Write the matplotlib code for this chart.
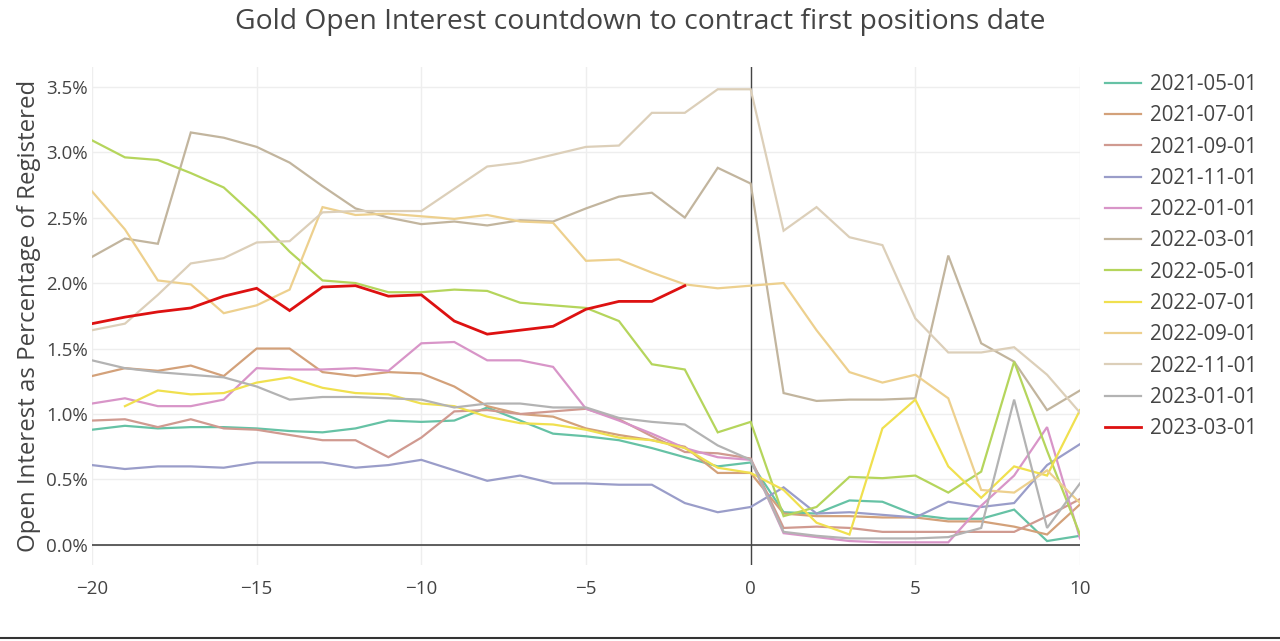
import numpy as np
import matplotlib
matplotlib.use("Agg")
from matplotlib import pyplot as plt
from matplotlib.lines import Line2D

nan = np.nan

# days relative to first positions date
days = list(range(-20, 11))

labels = ["2021-05-01", "2021-07-01", "2021-09-01", "2021-11-01", "2022-01-01", "2022-03-01",
          "2022-05-01", "2022-07-01", "2022-09-01", "2022-11-01", "2023-01-01", "2023-03-01"]

colors = ["#66c2a5", "#d3a17a", "#d09a90", "#9a9dc9", "#d895c8", "#c2b59e",
          "#b5d55c", "#f0e04f", "#edd08e", "#dccfb9", "#b3b3b3", "#dd1111"]

# open interest as % of registered, one list per contract (-20 .. 10)
oi_2021_05 = [0.88, 0.91, 0.89, 0.90, 0.90, 0.89, 0.87, 0.86, 0.89, 0.95, 0.94, 0.95, 1.05, 0.95, 0.85,
              0.83, 0.80, 0.74, 0.67, 0.60, 0.63,
              0.25, 0.24, 0.34, 0.33, 0.23, 0.20, 0.20, 0.27, 0.03, 0.07]
oi_2021_07 = [1.29, 1.35, 1.33, 1.37, 1.29, 1.50, 1.50, 1.32, 1.29, 1.32, 1.31, 1.21, 1.06, 1.00, 0.98,
              0.89, 0.84, 0.80, 0.75, 0.55, 0.55,
              0.24, 0.22, 0.22, 0.21, 0.21, 0.18, 0.18, 0.14, 0.08, 0.31]
oi_2021_09 = [0.95, 0.96, 0.90, 0.96, 0.89, 0.88, 0.84, 0.80, 0.80, 0.67, 0.82, 1.02, 1.03, 1.00, 1.02,
              1.04, 0.96, 0.83, 0.71, 0.70, 0.66,
              0.13, 0.14, 0.13, 0.10, 0.10, 0.10, 0.10, 0.10, 0.22, 0.35]
oi_2021_11 = [0.61, 0.58, 0.60, 0.60, 0.59, 0.63, 0.63, 0.63, 0.59, 0.61, 0.65, 0.57, 0.49, 0.53, 0.47,
              0.47, 0.46, 0.46, 0.32, 0.25, 0.29,
              0.44, 0.24, 0.25, 0.23, 0.21, 0.33, 0.29, 0.32, 0.61, 0.77]
oi_2022_01 = [1.08, 1.12, 1.06, 1.06, 1.11, 1.35, 1.34, 1.34, 1.35, 1.33, 1.54, 1.55, 1.41, 1.41, 1.36,
              1.04, 0.95, 0.85, 0.74, 0.67, 0.65,
              0.09, 0.06, 0.03, 0.02, 0.02, 0.02, 0.30, 0.53, 0.90, 0.05]
oi_2022_03 = [2.20, 2.34, 2.30, 3.15, 3.11, 3.04, 2.92, 2.74, 2.57, 2.50, 2.45, 2.47, 2.44, 2.48, 2.47,
              2.57, 2.66, 2.69, 2.50, 2.88, 2.76,
              1.16, 1.10, 1.11, 1.11, 1.12, 2.21, 1.54, 1.40, 1.03, 1.18]
oi_2022_05 = [3.09, 2.96, 2.94, 2.84, 2.73, 2.50, 2.24, 2.02, 2.00, 1.93, 1.93, 1.95, 1.94, 1.85, 1.83,
              1.81, 1.71, 1.38, 1.34, 0.86, 0.94,
              0.22, 0.29, 0.52, 0.51, 0.53, 0.40, 0.56, 1.40, 0.72, 0.08]
oi_2022_07 = [nan, 1.06, 1.18, 1.15, 1.16, 1.24, 1.28, 1.20, 1.16, 1.15, 1.08, 1.06, 0.98, 0.93, 0.92,
              0.88, 0.82, 0.80, 0.74, 0.59, 0.55,
              0.42, 0.17, 0.08, 0.89, 1.11, 0.60, 0.36, 0.60, 0.53, 1.03]
oi_2022_09 = [2.70, 2.41, 2.02, 1.99, 1.77, 1.83, 1.95, 2.58, 2.52, 2.53, 2.51, 2.49, 2.52, 2.47, 2.46,
              2.17, 2.18, 2.08, 1.99, 1.96, 1.98,
              2.00, 1.64, 1.32, 1.24, 1.30, 1.12, 0.42, 0.40, 0.57, 0.32]
oi_2022_11 = [1.64, 1.69, 1.91, 2.15, 2.19, 2.31, 2.32, 2.54, 2.55, 2.55, 2.55, 2.72, 2.89, 2.92, 2.98,
              3.04, 3.05, 3.30, 3.30, 3.48, 3.48,
              2.40, 2.58, 2.35, 2.29, 1.73, 1.47, 1.47, 1.51, 1.30, 1.01]
oi_2023_01 = [1.41, 1.35, 1.32, 1.30, 1.28, 1.21, 1.11, 1.13, 1.13, 1.12, 1.11, 1.05, 1.08, 1.08, 1.05,
              1.05, 0.97, 0.94, 0.92, 0.76, 0.65,
              0.10, 0.07, 0.05, 0.05, 0.05, 0.06, 0.13, 1.11, 0.13, 0.47]
oi_2023_03 = [1.69, 1.74, 1.78, 1.81, 1.90, 1.96, 1.79, 1.97, 1.98, 1.90, 1.91, 1.71, 1.61, 1.64, 1.67,
              1.80, 1.86, 1.86, 1.98, nan, nan,
              nan, nan, nan, nan, nan, nan, nan, nan, nan, nan]

series = [oi_2021_05, oi_2021_07, oi_2021_09, oi_2021_11, oi_2022_01, oi_2022_03,
          oi_2022_05, oi_2022_07, oi_2022_09, oi_2022_11, oi_2023_01, oi_2023_03]

plt.rcParams['font.family'] = ['Open Sans', 'DejaVu Sans']

fig = plt.figure(figsize=(12.8, 6.41), dpi=100)
ax = fig.add_axes([92/1280, 1 - 565/641, (1080-92)/1280, (565-67)/641])

for vals, lab, col in zip(series, labels, colors):
    lw = 2.0 if lab == "2023-03-01" else 1.6
    ax.plot(days, vals, color=col, lw=lw, label=lab, solid_joinstyle='miter')

ax.set_xlim(-20, 10)
ax.set_ylim(-0.153, 3.65)
ax.set_xticks([-20, -15, -10, -5, 0, 5, 10])
ax.set_xticklabels(["\u221220", "\u221215", "\u221210", "\u22125", "0", "5", "10"])
ax.set_yticks([0, 0.5, 1, 1.5, 2, 2.5, 3, 3.5])
ax.set_yticklabels(["0.0%", "0.5%", "1.0%", "1.5%", "2.0%", "2.5%", "3.0%", "3.5%"])
ax.grid(True, color="#eeeeee", lw=1)
ax.set_axisbelow(True)
ax.axhline(0, color="#444444", lw=1.2, zorder=1.5)
ax.axvline(0, color="#444444", lw=1.0, zorder=1.5)
for s in ax.spines.values():
    s.set_visible(False)
ax.tick_params(length=0, labelsize=13.5, colors="#444444")
ax.tick_params(axis='y', pad=3)
ax.tick_params(axis='x', pad=11)

ax.set_ylabel("Open Interest as Percentage of Registered", fontsize=17.3, color="#444444", labelpad=4)
fig.text(0.5, 1 - 22/641, "Gold Open Interest countdown to contract first positions date",
         ha="center", va="center", fontsize=20.3, color="#444444")

ax.legend(loc="upper left", bbox_to_anchor=(1105/1280, 1 - 74/641), bbox_transform=fig.transFigure,
          frameon=False, fontsize=14.8, handlelength=1.75, handletextpad=0.45, labelspacing=0.5,
          labelcolor="#444444", borderaxespad=0, borderpad=0)

fig.add_artist(Line2D([0, 1], [1 - 638/641, 1 - 638/641], color="#333333", lw=1.5, transform=fig.transFigure))

fig.savefig("out.png", dpi=100)
